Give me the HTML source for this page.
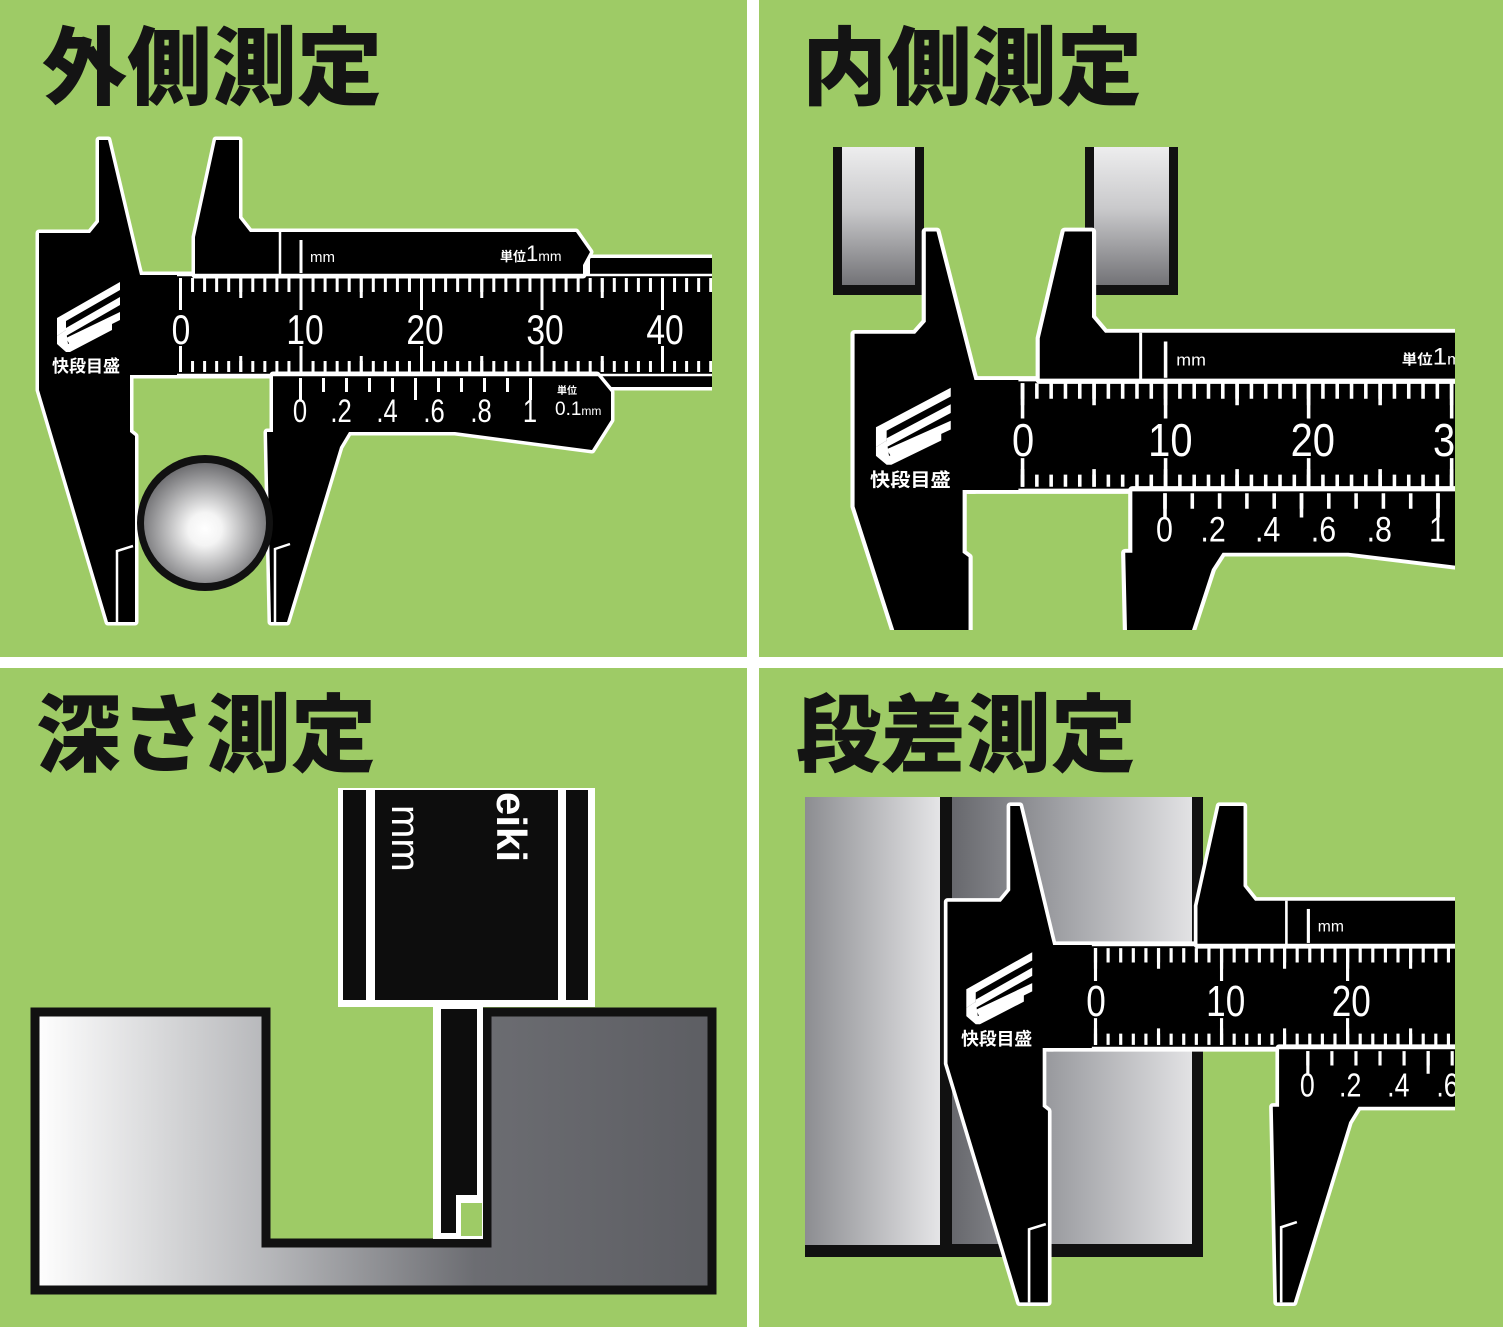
<!DOCTYPE html>
<html><head><meta charset="utf-8"><style>
html,body{margin:0;padding:0;background:#fff;}
svg{display:block;}
</style></head><body>
<svg width="1503" height="1327" viewBox="0 0 1503 1327" xmlns="http://www.w3.org/2000/svg">
<defs>
  <radialGradient id="ball" cx="0.5" cy="0.55" r="0.55">
    <stop offset="0" stop-color="#ffffff"/><stop offset="0.25" stop-color="#f4f4f4"/>
    <stop offset="1" stop-color="#6d6d70"/>
  </radialGradient>
  <linearGradient id="vblk" x1="0" y1="0" x2="0" y2="1">
    <stop offset="0" stop-color="#ededee"/><stop offset="0.45" stop-color="#c9c9cb"/><stop offset="1" stop-color="#737377"/>
  </linearGradient>
  <linearGradient id="hL" x1="0" y1="0" x2="1" y2="0">
    <stop offset="0" stop-color="#8c8d91"/><stop offset="1" stop-color="#e6e6e8"/>
  </linearGradient>
  <linearGradient id="hM" x1="0" y1="0" x2="1" y2="0">
    <stop offset="0" stop-color="#67686d"/><stop offset="0.5" stop-color="#a5a6aa"/><stop offset="1" stop-color="#e2e2e4"/>
  </linearGradient>
  <linearGradient id="work" gradientUnits="userSpaceOnUse" x1="35" y1="0" x2="712" y2="0">
    <stop offset="0" stop-color="#ffffff"/><stop offset="0.35" stop-color="#b5b6b9"/>
    <stop offset="0.65" stop-color="#6c6d72"/><stop offset="1" stop-color="#5d5e63"/>
  </linearGradient>
  <g id="fshapes">
    <polygon points="99,140 108,140 138,267 140,275 140,375 130,375 130,432 135,436 135,622 108,622 39,390 39,233 90,233 99,222"/>
    <rect x="135" y="275" width="700" height="100"/>
    <rect x="590" y="258" width="245" height="129"/>
  </g>
  <g id="sshapes">
    <polygon points="216,140 239,140 239,218 250,232 576,232 590,252 583,265 583,275 195,275 195,237"/>
    <polygon points="273,375 597,375 611,392 611,420 592,450 455,432 349,432 340,447 287,622 271,622 267,432 273,432"/>
  </g>
  <g id="calF">
    <use href="#fshapes" fill="#fff" stroke="#fff" stroke-width="7" stroke-linejoin="round"/>
    <use href="#fshapes" fill="#000"/>
    <polyline points="117,622 117,551 133,546" stroke="#fff" fill="none" stroke-width="2.5"/>
    <g fill="#fff">
      <polygon points="57,318 120,282 120,290 66,321 66,330 57,336"/>
      <polygon points="66,328 120,297 120,305 66,336"/>
      <polygon points="66,338 120,312 120,320 70,345"/>
      <polygon points="57,336 66,330 68,344 112,322 112,330 70,352 66,352 57,344"/>
    </g>
    <text x="86" y="372" font-size="17" font-weight="bold" fill="#fff" text-anchor="middle" font-family="'Liberation Sans','Noto Sans CJK JP',sans-serif">快段目盛</text>
  </g>
  <g id="calS">
    <use href="#sshapes" fill="#fff" stroke="#fff" stroke-width="7" stroke-linejoin="round"/>
    <use href="#sshapes" fill="#000"/>
    <g stroke="#fff" fill="none" stroke-width="2.5">
      <line x1="280" y1="232" x2="280" y2="275"/>
      <line x1="301" y1="240" x2="301" y2="273" stroke-width="3"/>
      <polyline points="275,622 275,549 290,544"/>
      <line x1="299" y1="385" x2="535" y2="385" stroke-width="14" stroke-dasharray="3 20"/>
      <line x1="299" y1="389" x2="535" y2="389" stroke-width="22" stroke-dasharray="3 112"/>
    </g>
    <g fill="#fff" font-family="'Liberation Sans',sans-serif" text-anchor="middle" font-size="32">
      <g transform="translate(300,422) scale(0.8,1)"><text>0</text></g>
      <g transform="translate(341,422) scale(0.8,1)"><text>.2</text></g>
      <g transform="translate(387,422) scale(0.8,1)"><text>.4</text></g>
      <g transform="translate(434,422) scale(0.8,1)"><text>.6</text></g>
      <g transform="translate(481,422) scale(0.8,1)"><text>.8</text></g>
      <g transform="translate(530,422) scale(0.8,1)"><text>1</text></g>
      <text x="310" y="262" font-size="15" text-anchor="start">mm</text>
      <text x="500" y="261" font-size="13" text-anchor="start" font-family="'Liberation Sans','Noto Sans CJK JP',sans-serif" font-weight="bold">単位<tspan font-size="22" font-weight="normal">1</tspan><tspan font-size="14" font-weight="normal">mm</tspan></text>
      <text x="567" y="394" font-size="10" font-family="'Liberation Sans','Noto Sans CJK JP',sans-serif" font-weight="bold">単位</text>
      <text x="555" y="415" font-size="19" text-anchor="start">0.1<tspan font-size="12">mm</tspan></text>
    </g>
  </g>
  <g id="scale">
    <g stroke="#fff" fill="none">
      <line x1="177" y1="275" x2="835" y2="275" stroke-width="2.5"/>
      <line x1="177" y1="375" x2="835" y2="375" stroke-width="2.5"/>
      <line x1="179" y1="285" x2="835" y2="285" stroke-width="14" stroke-dasharray="3 9.05"/>
      <line x1="179" y1="288" x2="835" y2="288" stroke-width="20" stroke-dasharray="3 57.25"/>
      <line x1="179" y1="294" x2="835" y2="294" stroke-width="32" stroke-dasharray="3 117.5"/>
      <line x1="179" y1="366.5" x2="835" y2="366.5" stroke-width="11" stroke-dasharray="3 9.05"/>
      <line x1="179" y1="364" x2="835" y2="364" stroke-width="16" stroke-dasharray="3 57.25"/>
      <line x1="179" y1="359" x2="835" y2="359" stroke-width="26" stroke-dasharray="3 117.5"/>
    </g>
    <g fill="#fff" font-family="'Liberation Sans',sans-serif" text-anchor="middle" font-size="42">
      <g transform="translate(181,344) scale(0.8,1)"><text>0</text></g>
      <g transform="translate(305,344) scale(0.8,1)"><text>10</text></g>
      <g transform="translate(425,344) scale(0.8,1)"><text>20</text></g>
      <g transform="translate(545,344) scale(0.8,1)"><text>30</text></g>
      <g transform="translate(665,344) scale(0.8,1)"><text>40</text></g>
    </g>
  </g>
  <clipPath id="c1"><rect x="0" y="0" width="712" height="655"/></clipPath>
  <clipPath id="c2"><rect x="760" y="0" width="695" height="630"/></clipPath>
  <clipPath id="c4"><rect x="760" y="670" width="695" height="657"/></clipPath>
</defs>

<rect width="1503" height="1327" fill="#fff"/>
<rect x="0" y="0" width="747" height="657" fill="#9ecb66"/>
<rect x="759" y="0" width="744" height="657" fill="#9ecb66"/>
<rect x="0" y="668" width="747" height="659" fill="#9ecb66"/>
<rect x="759" y="668" width="744" height="659" fill="#9ecb66"/>

<g font-family="'Liberation Sans','Noto Sans CJK JP',sans-serif" font-weight="900" font-size="85" fill="#141414">
  <text x="42" y="98">外側測定</text>
  <text x="802" y="98">内側測定</text>
  <text x="36" y="765">深さ測定</text>
  <text x="796" y="765">段差測定</text>
</g>

<!-- Q1 -->
<g clip-path="url(#c1)"><use href="#calF"/><use href="#calS"/><use href="#scale"/></g>
<circle cx="205" cy="523" r="68" fill="#111"/>
<ellipse cx="205" cy="523" rx="61" ry="60" fill="url(#ball)"/>

<!-- Q2 -->
<rect x="833" y="147" width="91" height="148" fill="#111"/>
<rect x="842" y="147" width="73" height="138" fill="url(#vblk)"/>
<rect x="1085" y="147" width="93" height="148" fill="#111"/>
<rect x="1094" y="147" width="75" height="138" fill="url(#vblk)"/>
<g clip-path="url(#c2)"><g transform="translate(808.3,77.5) scale(1.187,1.1)"><use href="#calF"/><use href="#calS"/><use href="#scale"/></g></g>

<!-- Q3 -->
<polygon points="35,1012 266,1012 266,1243 487,1243 487,1012 712,1012 712,1290 35,1290" fill="url(#work)" stroke="#111" stroke-width="9"/>
<rect x="338" y="788" width="257" height="219" fill="#fff"/>
<rect x="343" y="790" width="23" height="210" fill="#0d0d0d"/>
<rect x="375" y="790" width="183" height="210" fill="#0d0d0d"/>
<rect x="566" y="790" width="22" height="210" fill="#0d0d0d"/>
<rect x="433" y="1007" width="50" height="232" fill="#fff"/>
<polygon points="441,1009 477,1009 477,1195 456,1195 456,1233 441,1233" fill="#0d0d0d"/>
<rect x="461" y="1203" width="21" height="33" fill="#9ecb66"/>
<text transform="translate(392,805) rotate(90)" font-family="'Liberation Sans',sans-serif" font-size="40" fill="#fff">mm</text>
<text transform="translate(497,792) rotate(90)" font-family="'Liberation Sans',sans-serif" font-weight="bold" font-size="42" fill="#fff">eiki</text>

<!-- Q4 -->
<rect x="805" y="797" width="137" height="450" fill="url(#hL)"/>
<rect x="940" y="797" width="263" height="460" fill="#111"/>
<rect x="952" y="797" width="240" height="447" fill="url(#hM)"/>
<rect x="805" y="1245" width="398" height="12" fill="#111"/>
<g clip-path="url(#c4)"><g transform="translate(906.7,661.75) scale(1.046,1.03)"><use href="#calF"/><use href="#calS" transform="translate(83,0)"/><use href="#scale"/></g></g>
</svg>
</body></html>
